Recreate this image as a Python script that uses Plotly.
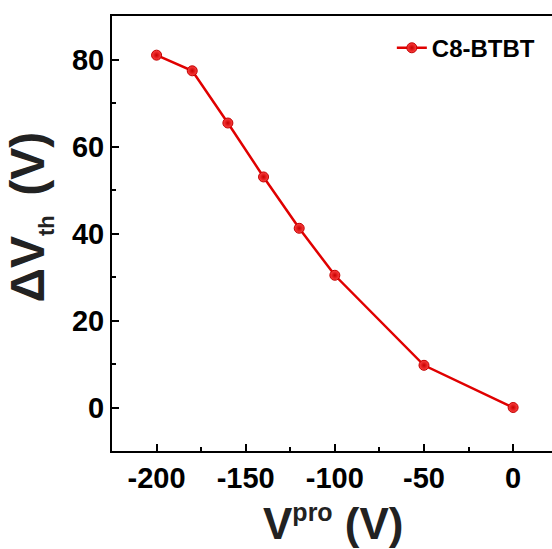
import plotly.graph_objects as go

v_pro = [-200, -180, -160, -140, -120, -100, -50, 0]
delta_vth = [81.0, 77.4, 65.4, 53.0, 41.2, 30.4, 9.7, 0.0]
series_name = "C8-BTBT"
x_ticks = [-200, -150, -100, -50, 0]
x_ticktext = ["-200", "-150", "-100", "-50", "0"]
y_ticks = [0, 20, 40, 60, 80]

FONT = "Liberation Sans, Arial, sans-serif"

fig = go.Figure()
fig.add_trace(go.Scatter(
    x=v_pro, y=delta_vth, mode="lines+markers", name=series_name,
    line=dict(color="#e00000", width=2.5),
    marker=dict(size=10, color="#ff4040",
                gradient=dict(type="radial", color="#c80000"),
                line=dict(color="#c00000", width=1)),
))

axis_common = dict(
    showline=True, linecolor="black", linewidth=2,
    ticks="inside", ticklen=7, tickwidth=2, tickcolor="black",
    showgrid=False, zeroline=False,
    tickfont=dict(family=FONT, size=29, color="black", weight="bold"),
)

fig.update_layout(
    width=552, height=549,
    margin=dict(l=112, r=0, t=16, b=98),
    plot_bgcolor="white", paper_bgcolor="white",
    xaxis=dict(range=[-225, 21.8], tickvals=x_ticks, ticktext=x_ticktext,
               mirror=True,
               minor=dict(tickvals=[-175, -125, -75, -25], ticks="inside",
                          ticklen=4, tickwidth=2, tickcolor="black"),
               **axis_common),
    yaxis=dict(range=[-10, 90], tickvals=y_ticks,
               minor=dict(tickvals=[10, 30, 50, 70], ticks="inside",
                          ticklen=4, tickwidth=2, tickcolor="black"),
               **axis_common),
    showlegend=True,
    legend=dict(x=0.636, y=0.926, xanchor="left", yanchor="middle",
                bgcolor="rgba(0,0,0,0)",
                font=dict(family=FONT, size=24, color="black", weight="bold")),
    annotations=[
        dict(text="V<sup><span style='font-size:25px'>pro</span></sup> (V)",
             xref="paper", yref="paper",
             x=0.503, y=-0.228, xanchor="center", yanchor="bottom",
             showarrow=False,
             font=dict(family=FONT, size=44, color="#222222", weight="bold")),
        dict(text="ΔV<sub><span style='font-size:22px'>th </span></sub> (V)",
             xref="paper", yref="paper",
             x=-0.186, y=0.537, xanchor="center", yanchor="middle",
             textangle=-90, showarrow=False,
             font=dict(family=FONT, size=48, color="#222222", weight="bold")),
    ],
)

fig.write_html("out.html")
